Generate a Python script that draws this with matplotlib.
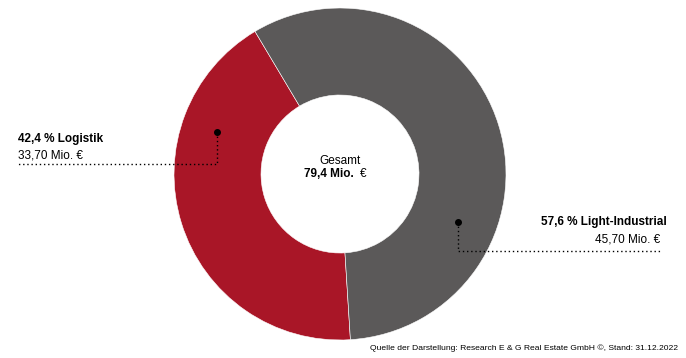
import matplotlib.pyplot as plt

plt.rcParams['font.family'] = ['Liberation Sans', 'DejaVu Sans']

# data
labels = ["Logistik", "Light-Industrial"]
values = [33.70, 45.70]
value_text = ["33,70", "45,70"]
shares = ["42,4", "57,6"]
colors = ["#A91627", "#5B5959"]
total = "79,4"

W, H = 686, 358
fig = plt.figure(figsize=(W / 100, H / 100), dpi=100)
ax = fig.add_axes([0, 0, 1, 1])

# donut
cx, cy, R = 340, 184, 166
ax.pie(values, colors=colors, startangle=120.8, counterclock=True,
       center=(cx, cy), radius=R, frame=True,
       wedgeprops=dict(width=87, edgecolor='white', linewidth=0.4))
ax.set_xlim(0, W)
ax.set_ylim(0, H)
ax.set_aspect('equal')
ax.axis('off')

# centre text
ax.text(cx, H - 161, "Gesamt", ha='center', va='center', fontsize=8.5)
ax.text(354, H - 174, total + " Mio.", ha='right', va='center',
        fontsize=8.5, fontweight='bold')
ax.text(360, H - 174, "€", ha='left', va='center', fontsize=8.5)

# Logistik label
ax.plot([217], [H - 132], 'o', color='black', markersize=4)
ax.plot([217, 217, 18], [H - 132, H - 164, H - 164], color='black',
        linestyle=(0, (1, 2)), linewidth=1)
ax.text(18, H - 139, shares[0] + " % " + labels[0], ha='left', va='center',
        fontsize=8.5, fontweight='bold')
ax.text(18, H - 155, value_text[0] + " Mio. €", ha='left', va='center',
        fontsize=8.5)

# Light-Industrial label
ax.plot([458], [H - 222], 'o', color='black', markersize=4)
ax.plot([458, 458, 660], [H - 222, H - 251, H - 251], color='black',
        linestyle=(0, (1, 2)), linewidth=1)
ax.text(667, H - 222.5, shares[1] + " % " + labels[1], ha='right',
        va='center', fontsize=8.5, fontweight='bold')
ax.text(660, H - 240, value_text[1] + " Mio. €", ha='right', va='center',
        fontsize=8.5)

# source
ax.text(678, H - 348, "Quelle der Darstellung: Research E & G Real Estate GmbH ©, Stand: 31.12.2022",
        ha='right', va='center', fontsize=6.1)

fig.savefig("out.png", dpi=100)
